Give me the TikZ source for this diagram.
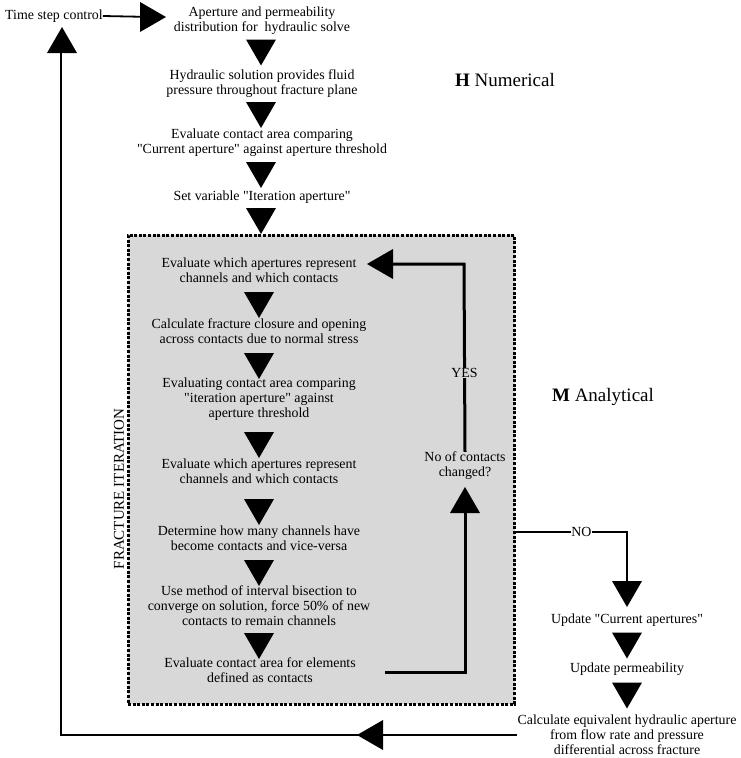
\documentclass[tikz,border=0pt]{standalone}
\usepackage{fontspec}
\setmainfont{Liberation Serif}[Ligatures=TeXOff]
\begin{document}
\begin{tikzpicture}[x=1pt,y=-1pt,
  txt/.style={align=center,inner sep=0pt,font=\fontsize{13.9}{15}\selectfont},
  ttl/.style={inner sep=0pt,font=\fontsize{19}{22}\selectfont},
  conn/.style={line width=3pt},
  conn2/.style={line width=2.5pt},
  tridown/.pic={\fill (-15,-13) -- (15,-13) -- (0,13) -- cycle;},
  triup/.pic={\fill (-15,13) -- (15,13) -- (0,-13) -- cycle;},
  trileft/.pic={\fill (13,-15) -- (13,15) -- (-13,0) -- cycle;},
  triright/.pic={\fill (-13,-15) -- (-13,15) -- (13,0) -- cycle;}
]
\useasboundingbox (0,0) rectangle (741,758);
\definecolor{boxgray}{RGB}{216,216,216}
% iteration box
\node (box) [draw, fill=boxgray, line width=3pt, dash pattern=on 3pt off 1.6pt,
  minimum width=386.5pt, minimum height=469pt, inner sep=0pt] at (321.25,469.5) {};
% top texts
\node[txt] (ts) at (54,16) {Time step control};
\node[txt] (t1) at (262,20.5) {Aperture and permeability\\distribution for\ \ hydraulic solve};
\node[txt] (t2) at (262,84) {Hydraulic solution provides fluid\\pressure throughout fracture plane};
\node[txt] (t3) at (262,143) {Evaluate contact area comparing\\"Current aperture" against aperture threshold};
\node[txt] (t4) at (262,197) {Set variable "Iteration aperture"};
\node[ttl] (hnum) at (505,80) {\textbf{H} Numerical};
\node[ttl] (man) at (603,397) {\textbf{M} Analytical};
% box texts
\node[txt] (b1) at (259,270) {Evaluate which apertures represent\\channels and which contacts};
\node[txt] (b2) at (259,331) {Calculate fracture closure and opening\\across contacts due to normal stress};
\node[txt] (b3) at (259,399) {Evaluating contact area comparing\\"iteration aperture" against\\aperture threshold};
\node[txt] (b4) at (259,471) {Evaluate which apertures represent\\channels and which contacts};
\node[txt] (b5) at (259,538) {Determine how many channels have\\become contacts and vice-versa};
\node[txt] (b6) at (259,606) {Use method of interval bisection to\\converge on solution, force 50\% of new\\contacts to remain channels};
\node[txt] (b7) at (260,670.5) {Evaluate contact area for elements\\defined as contacts};
\node[txt] (q) at (465,466) {No of contacts\\changed?};
\node[txt, rotate=90, font=\fontsize{15}{17}\selectfont] (fi) at (119,489) {FRACTURE ITERATION};
% right column
\node[txt] (u1) at (627,620) {Update "Current apertures"};
\node[txt] (u2) at (627,669) {Update permeability};
\node[txt] (u3) at (627,734.5) {Calculate equivalent hydraulic aperture\\from flow rate and pressure\\differential across fracture};
% arrow heads between vertical steps
\path (t1) -- (t2) pic at (261,52.5) {tridown};
\path (t2) -- (t3) pic at (261,115) {tridown};
\path (t3) -- (t4) pic at (261,175) {tridown};
\path (t4) -- (box.north) pic at (261,221) {tridown};
\path (b1) -- (b2) pic at (259,305) {tridown};
\path (b2) -- (b3) pic at (259,366) {tridown};
\path (b3) -- (b4) pic at (259,445) {tridown};
\path (b4) -- (b5) pic at (259,512) {tridown};
\path (b5) -- (b6) pic at (259,573) {tridown};
\path (b6) -- (b7) pic at (259,646) {tridown};
\path (u1) -- (u2) pic at (627,645.5) {tridown};
\path (u2) -- (u3) pic at (627,695.5) {tridown};
% time step to first
\coordinate (a0) at (153,17);
\draw[line width=1.8pt] (ts.east) -- (a0);
\pic at (a0) {triright};
% loop back inside box
\coordinate (l1) at (385,672);
\coordinate (l2) at (465,672);
\coordinate (l3) at (465,500);
\draw[conn] (l1) -- (l2) -- (l3);
\pic at (l3) {triup};
\coordinate (y1) at (464,264);
\coordinate (y2) at (380,264);
\draw[conn] (q.north) -- node[pos=0.42, fill=boxgray, inner xsep=1pt, inner ysep=5pt, txt] {YES} (y1) -- (y2);
\pic at (y2) {trileft};
% NO branch
\coordinate (n1) at (627,532);
\coordinate (n2) at (627,594);
\draw[conn2] (box.east |- 0,532) -- node[pos=0.59, fill=white, inner xsep=3pt, txt] {NO} (n1) -- (n2);
\pic at (n2) {tridown};
% return to time step control
\coordinate (r1) at (61,735);
\coordinate (r2) at (62,40);
\draw[conn2] (u3.west |- 0,735) -- (r1) -- (r1 |- r2);
\pic at (370,735) {trileft};
\pic at (r2) {triup};
\end{tikzpicture}
\end{document}
